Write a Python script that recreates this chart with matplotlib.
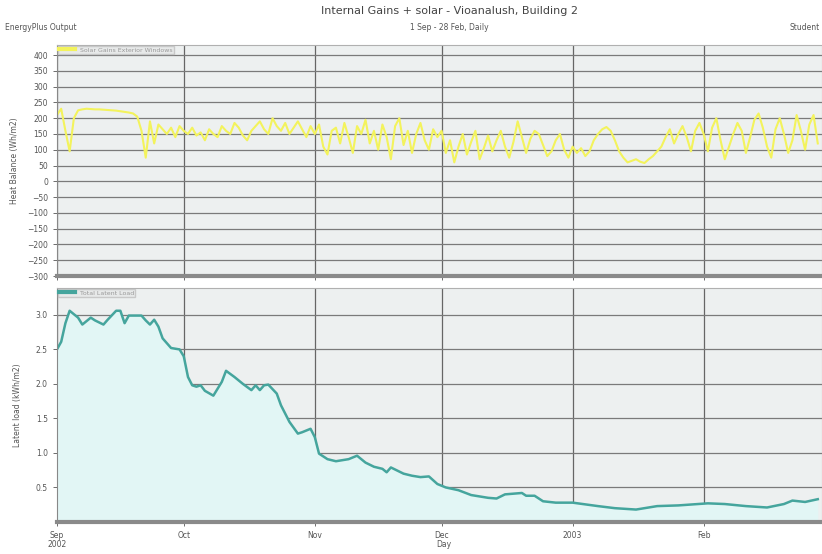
import datetime as dt

import matplotlib
matplotlib.use('Agg')
import matplotlib.pyplot as plt
import matplotlib.dates as mdates

# Daily solar gains through exterior windows, 1 Sep 2002 - 28 Feb 2003
solar_sep = [210, 230, 160, 95, 200, 225, 228, 230, 229, 228, 228, 227, 226, 225, 224,
             222, 220, 218, 215, 205, 160, 75, 190, 120, 180, 165, 150, 170, 140, 175]
solar_oct = [160, 150, 170, 145, 155, 130, 165, 150, 140, 175, 160, 150, 185, 170, 145,
             130, 160, 175, 190, 165, 150, 200, 175, 160, 185, 150, 170, 190, 165, 140, 175]
solar_nov = [150, 180, 110, 85, 160, 170, 120, 185, 140, 90, 175, 150, 195, 120, 160,
             100, 180, 140, 70, 175, 200, 115, 160, 90, 150, 185, 130, 100, 165, 140]
solar_dec = [160, 90, 130, 60, 110, 150, 85, 125, 160, 70, 105, 145, 95, 130, 160,
             110, 75, 125, 190, 140, 90, 135, 160, 150, 115, 80, 95, 130, 150, 100, 75]
solar_jan = [110, 90, 105, 80, 95, 130, 150, 165, 172, 160, 130, 95, 75, 60, 65,
             70, 62, 58, 70, 80, 95, 110, 140, 165, 120, 150, 175, 140, 95, 160, 185]
solar_feb = [150, 95, 170, 200, 130, 70, 110, 150, 185, 160, 90, 140, 195, 215, 170,
             110, 75, 165, 200, 150, 90, 130, 210, 160, 100, 180, 210, 120]
solar_gains = solar_sep + solar_oct + solar_nov + solar_dec + solar_jan + solar_feb

# Total latent load, read at these day offsets from 1 Sep
latent_days = [0, 1, 2, 3, 5, 6, 8, 9, 11, 12, 14, 15, 16, 17, 20, 21, 22, 23, 24, 25,
               27, 29, 30, 31, 32, 33, 34, 35, 37, 39, 40, 42, 44, 46, 47, 48, 49, 50,
               52, 53, 55, 57, 58, 60, 61, 62, 64, 66, 69, 71, 73, 75, 77, 78, 79, 82,
               84, 86, 88, 90, 92, 95, 98, 102, 104, 106, 110, 111, 113, 115, 118, 122,
               128, 132, 137, 142, 147, 154, 158, 163, 168, 172, 174, 177, 180]
latent_load = [2.50, 2.61, 2.88, 3.06, 2.96, 2.86, 2.96, 2.92, 2.86, 2.93, 3.06, 3.06,
               2.88, 2.99, 2.99, 2.92, 2.86, 2.93, 2.83, 2.66, 2.52, 2.50, 2.40, 2.10,
               1.98, 1.96, 1.98, 1.90, 1.83, 2.03, 2.19, 2.10, 2.00, 1.91, 1.98, 1.91,
               1.98, 1.99, 1.86, 1.69, 1.45, 1.28, 1.30, 1.35, 1.23, 0.99, 0.91, 0.88,
               0.91, 0.96, 0.86, 0.80, 0.77, 0.72, 0.79, 0.70, 0.67, 0.65, 0.66, 0.55,
               0.50, 0.46, 0.39, 0.35, 0.34, 0.40, 0.42, 0.38, 0.38, 0.30, 0.28, 0.28,
               0.23, 0.20, 0.18, 0.23, 0.24, 0.27, 0.26, 0.23, 0.21, 0.26, 0.31, 0.29, 0.33]

month_starts = [dt.date(2002, 9, 1), dt.date(2002, 10, 1), dt.date(2002, 11, 1),
                dt.date(2002, 12, 1), dt.date(2003, 1, 1), dt.date(2003, 2, 1)]
month_labels = ['Sep', 'Oct', 'Nov', 'Dec', '2003', 'Feb']

start = dt.date(2002, 9, 1)
solar_dates = [start + dt.timedelta(days=i) for i in range(len(solar_gains))]
latent_dates = [start + dt.timedelta(days=d) for d in latent_days]
x_end = dt.date(2003, 3, 1)

TXT = '#555555'
FACE = '#edf0f0'
GRID = '#7a7a7a'

fig = plt.figure(figsize=(8.22, 5.54), dpi=100)
ax1 = fig.add_axes([0.0693, 0.5018, 0.9307, 0.417])
ax2 = fig.add_axes([0.0693, 0.0578, 0.9307, 0.4224])


def style_axis(ax):
    ax.set_facecolor(FACE)
    ax.set_xlim(start, x_end)
    ax.set_xticks([mdates.date2num(d) for d in month_starts])
    ax.grid(axis='y', color=GRID, linewidth=0.9)
    ax.grid(axis='x', color='#666666', linewidth=0.9)
    ax.set_axisbelow(True)
    for side in ('top', 'right'):
        ax.spines[side].set_color('#b0b0b0')
        ax.spines[side].set_linewidth(0.8)
    ax.spines['left'].set_color('#888888')
    ax.spines['bottom'].set_color('#8a8a8a')
    ax.spines['bottom'].set_linewidth(3)
    ax.tick_params(colors=TXT, labelsize=5.5, length=3, width=0.6)


def style_legend(leg):
    for t in leg.get_texts():
        t.set_color('#999999')
    leg.get_lines()[0].set_linewidth(3)


# top panel: solar gains
style_axis(ax1)
ax1.plot(solar_dates, solar_gains, color='#f3f35c', linewidth=1.5,
         label='Solar Gains Exterior Windows')
ax1.set_ylim(-300, 432)
ax1.set_yticks(range(-300, 401, 50))
ax1.set_xticklabels([])
ax1.set_ylabel('Heat Balance (Wh/m2)', fontsize=5.5, color=TXT, labelpad=6)
style_legend(ax1.legend(loc='upper left', bbox_to_anchor=(0.0, 1.0), fontsize=4.5,
                        frameon=True, fancybox=False, facecolor='#e6e8e8',
                        edgecolor='#c0c0c0', borderpad=0.2, handlelength=2.5,
                        handletextpad=0.8, borderaxespad=0.15))

# bottom panel: latent load
style_axis(ax2)
ax2.fill_between(latent_dates, latent_load, 0, color='#e2f6f5', linewidth=0)
ax2.plot(latent_dates, latent_load, color='#45a59d', linewidth=1.8,
         label='Total Latent Load')
ax2.set_ylim(0, 3.39)
ax2.set_yticks([0.5, 1.0, 1.5, 2.0, 2.5, 3.0])
ax2.set_yticklabels(['0.5', '1.0', '1.5', '2.0', '2.5', '3.0'])
ax2.set_xticklabels(month_labels)
ax2.set_ylabel('Latent load (kWh/m2)', fontsize=5.5, color=TXT, labelpad=10)
ax2.set_xlabel('Day', fontsize=5.5, color=TXT)
ax2.xaxis.set_label_coords(0.506, -0.075)
style_legend(ax2.legend(loc='upper left', bbox_to_anchor=(0.0, 1.0), fontsize=4.5,
                        frameon=True, fancybox=False, facecolor='#e6e8e8',
                        edgecolor='#c0c0c0', borderpad=0.2, handlelength=2.5,
                        handletextpad=0.8, borderaxespad=0.15))

fig.text(0.0693, 0.017, '2002', fontsize=5.5, color=TXT, ha='center', va='center')

# header texts
fig.text(0.547, 0.981, 'Internal Gains + solar - Vioanalush, Building 2',
         fontsize=8, color='#444444', ha='center', va='center')
fig.text(0.547, 0.950, '1 Sep - 28 Feb, Daily', fontsize=5.5, color=TXT,
         ha='center', va='center')
fig.text(0.006, 0.950, 'EnergyPlus Output', fontsize=5.5, color=TXT,
         ha='left', va='center')
fig.text(0.997, 0.950, 'Student', fontsize=5.5, color=TXT, ha='right', va='center')

fig.savefig('out.png', dpi=100)
plt.close(fig)
